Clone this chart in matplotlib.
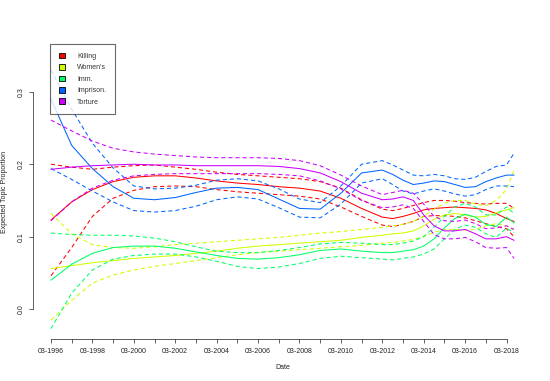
import matplotlib
matplotlib.use("Agg")
import matplotlib.pyplot as plt
from matplotlib.patches import Patch

plt.rcParams['font.family'] = ['Liberation Sans', 'DejaVu Sans']

# years since 03-1996
t = [0, 1, 2, 3, 4, 5, 6, 7, 8, 9, 10, 11, 12, 13, 14, 15, 16,
     16.5, 17, 17.5, 18, 18.5, 19, 19.5, 20, 20.5, 21, 21.5, 22, 22.36]

tick_pos = list(range(23))
tick_labels = ['03-1996', '', '03-1998', '', '03-2000', '', '03-2002', '', '03-2004', '',
               '03-2006', '', '03-2008', '', '03-2010', '', '03-2012', '', '03-2014', '',
               '03-2016', '', '03-2018']

topics = ['Killing', "Women's", 'Imm.', 'Imprison.', 'Torture']
colors = ['#FF0000', '#CCFF00', '#00FF66', '#0066FF', '#CC00FF']

killing = [0.123, 0.148, 0.165, 0.176, 0.182, 0.184, 0.184, 0.181, 0.177, 0.174, 0.172, 0.169, 0.167, 0.163, 0.153, 0.139, 0.127,
           0.125, 0.128, 0.132, 0.137, 0.139, 0.140, 0.141, 0.140, 0.139, 0.137, 0.132, 0.125, 0.121]
killing_lo = [0.046, 0.085, 0.128, 0.153, 0.164, 0.169, 0.170, 0.169, 0.165, 0.162, 0.160, 0.158, 0.156, 0.152, 0.141, 0.128, 0.116,
              0.114, 0.117, 0.121, 0.128, 0.129, 0.129, 0.128, 0.126, 0.122, 0.118, 0.114, 0.111, 0.100]
killing_hi = [0.200, 0.196, 0.193, 0.196, 0.198, 0.199, 0.196, 0.193, 0.189, 0.186, 0.184, 0.182, 0.180, 0.176, 0.167, 0.151, 0.138,
              0.136, 0.139, 0.143, 0.147, 0.150, 0.150, 0.149, 0.147, 0.146, 0.145, 0.146, 0.146, 0.139]

women = [0.056, 0.060, 0.064, 0.067, 0.070, 0.072, 0.074, 0.077, 0.080, 0.084, 0.087, 0.089, 0.091, 0.093, 0.095, 0.099, 0.102,
         0.104, 0.105, 0.108, 0.115, 0.124, 0.130, 0.132, 0.130, 0.127, 0.128, 0.133, 0.137, 0.140]
women_lo = [-0.015, 0.012, 0.036, 0.047, 0.054, 0.059, 0.063, 0.067, 0.071, 0.075, 0.078, 0.080, 0.082, 0.084, 0.086, 0.088, 0.091,
            0.092, 0.094, 0.096, 0.100, 0.106, 0.110, 0.110, 0.109, 0.110, 0.115, 0.118, 0.115, 0.110]
women_hi = [0.132, 0.104, 0.089, 0.085, 0.084, 0.086, 0.089, 0.091, 0.093, 0.095, 0.097, 0.099, 0.102, 0.105, 0.107, 0.110, 0.113,
            0.115, 0.117, 0.121, 0.128, 0.138, 0.146, 0.150, 0.150, 0.145, 0.143, 0.150, 0.165, 0.192]

imm = [0.040, 0.062, 0.077, 0.085, 0.087, 0.087, 0.084, 0.079, 0.074, 0.070, 0.069, 0.071, 0.075, 0.081, 0.083, 0.080, 0.078,
       0.078, 0.080, 0.082, 0.087, 0.097, 0.112, 0.125, 0.131, 0.127, 0.117, 0.114, 0.127, 0.119]
imm_lo = [-0.027, 0.022, 0.054, 0.069, 0.074, 0.076, 0.076, 0.072, 0.066, 0.059, 0.056, 0.058, 0.063, 0.070, 0.073, 0.071, 0.069,
          0.068, 0.070, 0.072, 0.076, 0.083, 0.097, 0.110, 0.116, 0.113, 0.104, 0.099, 0.112, 0.105]
imm_hi = [0.105, 0.103, 0.102, 0.102, 0.101, 0.098, 0.093, 0.086, 0.080, 0.078, 0.078, 0.081, 0.085, 0.090, 0.092, 0.091, 0.089,
          0.089, 0.091, 0.094, 0.100, 0.113, 0.128, 0.141, 0.146, 0.141, 0.130, 0.130, 0.141, 0.132]

imprison = [0.290, 0.226, 0.194, 0.169, 0.153, 0.151, 0.154, 0.161, 0.167, 0.168, 0.165, 0.152, 0.139, 0.138, 0.160, 0.188, 0.192,
            0.186, 0.178, 0.172, 0.174, 0.177, 0.176, 0.172, 0.168, 0.169, 0.176, 0.181, 0.185, 0.185]
imprison_lo = [0.194, 0.179, 0.163, 0.148, 0.136, 0.134, 0.136, 0.142, 0.151, 0.155, 0.152, 0.140, 0.127, 0.126, 0.145, 0.174, 0.180,
               0.172, 0.163, 0.159, 0.163, 0.166, 0.163, 0.159, 0.156, 0.158, 0.165, 0.170, 0.170, 0.169]
imprison_hi = [0.330, 0.276, 0.229, 0.195, 0.170, 0.166, 0.167, 0.171, 0.178, 0.180, 0.177, 0.166, 0.152, 0.147, 0.170, 0.200, 0.205,
               0.199, 0.192, 0.185, 0.184, 0.186, 0.184, 0.180, 0.179, 0.182, 0.190, 0.197, 0.199, 0.215]

torture = [0.193, 0.196, 0.198, 0.199, 0.200, 0.199, 0.199, 0.198, 0.198, 0.198, 0.198, 0.197, 0.194, 0.188, 0.176, 0.160, 0.151,
           0.152, 0.155, 0.150, 0.130, 0.115, 0.108, 0.108, 0.110, 0.104, 0.097, 0.097, 0.100, 0.095]
torture_lo = [0.122, 0.148, 0.167, 0.178, 0.184, 0.186, 0.187, 0.187, 0.187, 0.187, 0.187, 0.186, 0.184, 0.177, 0.166, 0.150, 0.140,
              0.141, 0.144, 0.139, 0.121, 0.103, 0.097, 0.097, 0.099, 0.093, 0.085, 0.084, 0.085, 0.070]
torture_hi = [0.261, 0.246, 0.232, 0.222, 0.217, 0.214, 0.212, 0.210, 0.209, 0.209, 0.209, 0.208, 0.205, 0.198, 0.185, 0.170, 0.158,
              0.161, 0.164, 0.160, 0.145, 0.128, 0.122, 0.121, 0.123, 0.118, 0.111, 0.112, 0.115, 0.110]

means = [killing, women, imm, imprison, torture]
lows = [killing_lo, women_lo, imm_lo, imprison_lo, torture_lo]
highs = [killing_hi, women_hi, imm_hi, imprison_hi, torture_hi]

fig = plt.figure(figsize=(5.5, 3.81), dpi=100)
ax = fig.add_axes([0.0605, 0.110, 0.9075, 0.7745])

dash = (0, (4, 2.8))
for m, lo, hi, c in zip(means, lows, highs, colors):
    ax.plot(t, m, color=c, lw=0.75)
    ax.plot(t, lo, color=c, lw=0.75, ls=dash)
    ax.plot(t, hi, color=c, lw=0.75, ls=dash)

ax.set_xlim(-0.855, 23.25)
ax.set_ylim(-0.0414, 0.366)

for s in ['top', 'right']:
    ax.spines[s].set_visible(False)
ax.spines['left'].set_bounds(0, 0.3)
ax.spines['bottom'].set_bounds(0, 22)
for s in ['left', 'bottom']:
    ax.spines[s].set_linewidth(0.6)
    ax.spines[s].set_color('#444444')

ax.set_xticks(tick_pos)
ax.set_xticklabels(tick_labels)
ax.set_yticks([0.0, 0.1, 0.2, 0.3])
ax.set_yticklabels(['0.0', '0.1', '0.2', '0.3'], rotation=90, va='center')
ax.tick_params(length=2.9, width=0.6, color='#444444', labelsize=5, labelcolor='#222222')
ax.tick_params(axis='x', pad=3.3)
ax.tick_params(axis='y', pad=3.0)

ax.set_xlabel('Date', fontsize=5, color='#222222', labelpad=7)
ax.set_ylabel('Expected Topic Proportion', fontsize=5, color='#222222', labelpad=7)

handles = [Patch(facecolor=c, edgecolor='black', linewidth=0.6) for c in colors]
leg = ax.legend(handles, topics, loc='upper left', bbox_to_anchor=(0.034, 1.0),
                borderaxespad=0, fontsize=5, frameon=True, fancybox=False,
                handlelength=0.9, handleheight=0.9, handletextpad=1.7,
                labelspacing=0.6, borderpad=1.25)
leg.get_frame().set_edgecolor('#444444')
leg.get_frame().set_linewidth(0.8)
leg.set_zorder(10)
for txt in leg.get_texts():
    txt.set_color('#333333')

fig.savefig('out.png', dpi=100)
